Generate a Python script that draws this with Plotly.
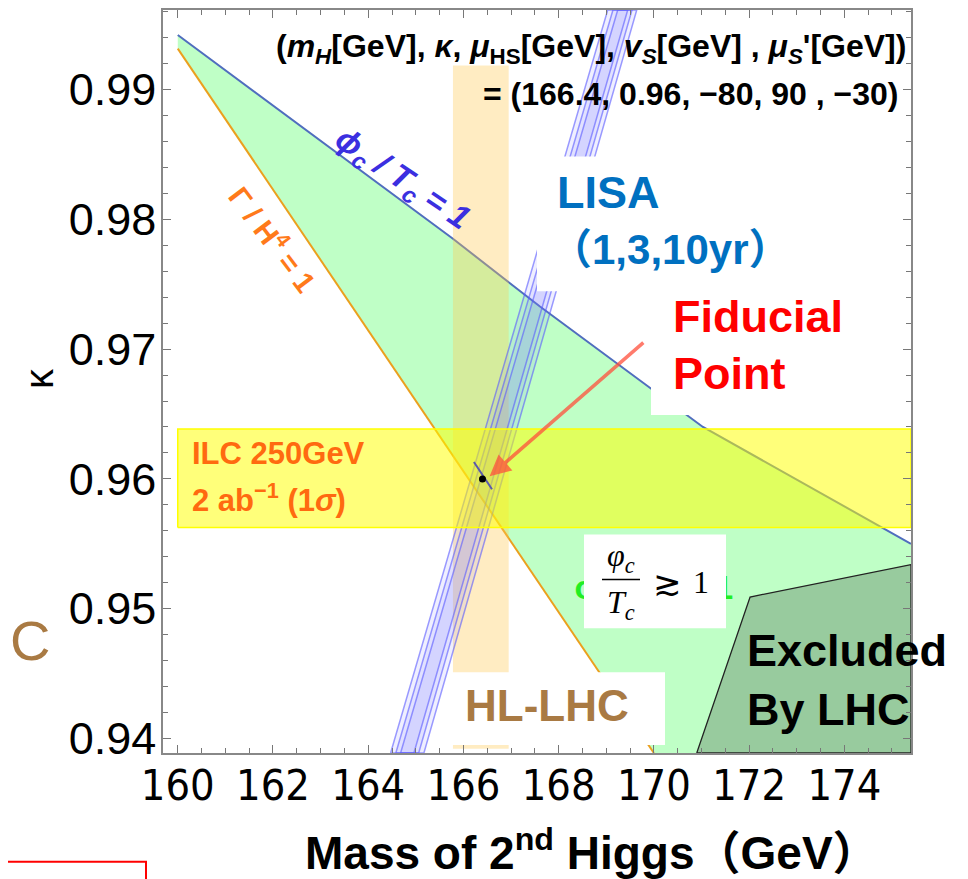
import plotly.graph_objects as go

# axis extent (GeV, kappa)
x_range = [159.69, 175.4]
y_range = [0.93888, 0.99613]
x_ticks = [160, 162, 164, 166, 168, 170, 172, 174]
y_ticks = [0.94, 0.95, 0.96, 0.97, 0.98, 0.99]
y_tick_text = ["0.94", "0.95", "0.96", "0.97", "0.98", "0.99"]

# phi_c/T_c = 1 contour
phi_x = [160.0, 165.78, 167.6, 171.03, 175.4]
phi_y = [0.9942, 0.9785, 0.9733, 0.9640, 0.9550]
# Gamma/H^4 = 1 contour
gamma_x = [160.0, 170.0]
gamma_y = [0.99315, 0.93888]
# lower-right corners closing the allowed (green) region
green_corner_x = [175.4, 170.0]
green_corner_y = [0.93888, 0.93888]

# excluded by LHC
lhc_x = [170.9, 172.02, 175.4, 175.4]
lhc_y = [0.93888, 0.9509, 0.9534, 0.93888]

# HL-LHC band in mass
hl_x = [165.78, 166.95]
hl_y = [0.9392, 0.99185]

# ILC 250 GeV band in kappa
ilc_x = [160.0, 175.4]
ilc_y = [0.95625, 0.96385]

# LISA bands (1, 3, 10 yr): edges at bottom and top of frame
lisa_y = [0.93888, 0.99613]
lisa_left = {"1yr": [164.47, 169.03], "3yr": [164.58, 169.14], "10yr": [164.68, 169.24]}
lisa_right = {"1yr": [165.17, 169.64], "3yr": [165.06, 169.54], "10yr": [164.96, 169.45]}

# fiducial point
fid_x = [166.4]
fid_y = [0.96]
fid_err_x = [166.22, 166.6]
fid_err_y = [0.9613, 0.9592]
arrow_tail = (169.81, 0.9706)
arrow_head = (166.55, 0.9602)

# plot area in page pixels (the page body adds an 8px offset)
OFF = 8
L, R, T, B = 163, 911, 8, 753
W, H = 968 - OFF, 879 - OFF


def px(x):
    return (x - L) / (R - L)


def py(y):
    return (B - y) / (B - T)


fig = go.Figure()

# allowed region
fig.add_trace(go.Scatter(
    x=phi_x + green_corner_x + gamma_x[::-1],
    y=phi_y + green_corner_y + gamma_y[::-1],
    fill='toself', fillcolor='#bfffc6', mode='lines', line=dict(width=0),
    hoverinfo='skip'
))
# excluded region
fig.add_trace(go.Scatter(
    x=lhc_x + lhc_x[:1], y=lhc_y + lhc_y[:1],
    fill='toself', fillcolor='#98cb9e', mode='lines',
    line=dict(color='#222222', width=1.3), hoverinfo='skip'
))
# contours
fig.add_trace(go.Scatter(x=phi_x, y=phi_y, mode='lines',
                         line=dict(color='rgb(80,110,190)', width=2)))
fig.add_trace(go.Scatter(x=gamma_x, y=gamma_y, mode='lines',
                         line=dict(color='rgb(235,160,30)', width=2)))
# HL-LHC band
fig.add_trace(go.Scatter(
    x=[hl_x[0], hl_x[1], hl_x[1], hl_x[0], hl_x[0]],
    y=[hl_y[0], hl_y[0], hl_y[1], hl_y[1], hl_y[0]],
    fill='toself', fillcolor='rgba(255,200,80,0.35)', mode='lines',
    line=dict(width=0), hoverinfo='skip'
))
# LISA bands
for key in ["1yr", "3yr", "10yr"]:
    xl, xr = lisa_left[key], lisa_right[key]
    fig.add_trace(go.Scatter(
        x=[xl[0], xr[0], xr[1], xl[1], xl[0]],
        y=[lisa_y[0], lisa_y[0], lisa_y[1], lisa_y[1], lisa_y[0]],
        fill='toself', fillcolor='rgba(120,120,255,0.12)', mode='lines',
        line=dict(color='rgba(90,90,255,0.6)', width=1.5), hoverinfo='skip'
    ))
# ILC band
fig.add_trace(go.Scatter(
    x=[ilc_x[0], ilc_x[1], ilc_x[1], ilc_x[0], ilc_x[0]],
    y=[ilc_y[0], ilc_y[0], ilc_y[1], ilc_y[1], ilc_y[0]],
    fill='toself', fillcolor='rgba(255,255,0,0.52)', mode='lines',
    line=dict(color='#ffff00', width=1.5), hoverinfo='skip'
))
# fiducial point
fig.add_trace(go.Scatter(x=fid_err_x, y=fid_err_y, mode='lines',
                         line=dict(color='rgb(90,90,170)', width=2)))
fig.add_trace(go.Scatter(x=fid_x, y=fid_y, mode='markers',
                         marker=dict(color='black', size=7)))
# label hidden under the white box
fig.add_trace(go.Scatter(
    x=[170.0], y=[0.95138], mode='text',
    text=['<b>ϕ<sub>c</sub> / T<sub>c</sub> = 1</b>'],
    textfont=dict(family='Liberation Sans', size=34, color='#22ee22')
))

# white label boxes
shapes = []
for x0, x1, y0, y1 in [(537, 790, 155, 290), (651, 880, 290, 414),
                       (584, 726, 534, 628), (450, 665, 672, 745)]:
    shapes.append(dict(type='rect', xref='paper', yref='paper',
                       x0=px(x0), x1=px(x1), y0=py(y1), y1=py(y0),
                       fillcolor='white', line=dict(width=0), layer='above'))
shapes.append(dict(type='line', xref='paper', yref='paper',
                   x0=px(602), x1=px(640), y0=py(579), y1=py(579),
                   line=dict(color='black', width=1.5), layer='above'))
shapes.append(dict(type='rect', xref='paper', yref='paper',
                   x0=px(0), x1=px(146), y0=py(900), y1=py(862),
                   line=dict(color='red', width=2), fillcolor='rgba(0,0,0,0)'))

ann = []


def text(xp, yp, s, size, color='black', family='Liberation Sans', xanchor='center', angle=0):
    ann.append(dict(x=px(xp), y=py(yp), xref='paper', yref='paper', text=s,
                    showarrow=False, xanchor=xanchor, yanchor='middle', textangle=angle,
                    font=dict(family=family, size=size, color=color)))


text(908, 47, '<b>(<i>m<sub>H</sub></i>[GeV], <i>κ</i>, <i>μ</i><sub>HS</sub>[GeV], '
     '<i>v<sub>S</sub></i>[GeV] , <i>μ<sub>S</sub></i>\'[GeV])</b>', 32, xanchor='right')
text(900, 92, '<b>= (166.4, 0.96, −80, 90 , −30)</b>', 32, xanchor='right')
text(402, 178, '<b><i>ϕ<sub>c</sub> / T<sub>c</sub> = 1</i></b>', 33, color='#3b2fe0', angle=34)
text(273, 237, '<b>Γ / H<sup>4</sup> = 1</b>', 29, color='#ff7a1a', angle=53)
text(555, 191, '<b>LISA</b>', 45, color='#0070c0', family='Liberation Sans, Noto Sans CJK JP', xanchor='left')
text(548, 248, '<b>（1,3,10yr）</b>', 42, color='#0070c0', family='Liberation Sans, Noto Sans CJK JP', xanchor='left')
text(671, 315, '<b>Fiducial</b>', 45, color='#ff0000', xanchor='left')
text(671, 372, '<b>Point</b>', 45, color='#ff0000', xanchor='left')
text(190, 453, '<b>ILC 250GeV</b>', 31, color='#ff6a10', xanchor='left')
text(190, 497, '<b>2 ab<sup>−1</sup> (1<i>σ</i>)</b>', 31, color='#ff6a10', xanchor='left')
text(745, 650, '<b>Excluded</b>', 45, xanchor='left')
text(745, 709, '<b>By LHC</b>', 45, xanchor='left')
text(547, 705, '<b>HL-LHC</b>', 44, color='#a97a43')
text(621, 557, '<i>φ<sub>c</sub></i>', 32, family='Liberation Serif')
text(621, 604, '<i>T<sub>c</sub></i>', 32, family='Liberation Serif')
text(667, 583, '≳', 34, family='DejaVu Serif')
text(701, 582, '1', 32, family='Liberation Serif')
text(8, 640, 'C', 56, color='#a97a43', xanchor='left')
text(39, 378, 'κ', 40, angle=-90)
text(592, 850, '<b>Mass of 2<sup>nd</sup> Higgs（GeV）</b>', 46,
     family='Liberation Sans, Noto Sans CJK JP')

ann.append(dict(x=arrow_head[0], y=arrow_head[1], ax=arrow_tail[0], ay=arrow_tail[1],
                xref='x', yref='y', axref='x', ayref='y', text='', showarrow=True,
                arrowhead=2, arrowsize=1.2, arrowwidth=3.5,
                arrowcolor='rgba(255,80,60,0.75)'))

narrow = 'Liberation Sans Narrow, Arial Narrow, DejaVu Sans Condensed, Roboto Condensed, Liberation Sans'
fig.update_layout(
    width=W, height=H,
    margin=dict(l=L - OFF, r=W - (R - OFF), t=T - OFF, b=H - (B - OFF)),
    plot_bgcolor='white', paper_bgcolor='white',
    showlegend=False,
    shapes=shapes, annotations=ann,
    xaxis=dict(range=x_range, tickvals=x_ticks, ticks='inside', ticklen=8,
               tickcolor='#777', showline=True, linecolor='#888', linewidth=1.5,
               mirror='ticks', showgrid=False, zeroline=False, ticklabelstandoff=-6,
               minor=dict(dtick=0.5, ticks='inside', ticklen=5, tickcolor='#777'),
               tickfont=dict(family=narrow, size=43, color='black')),
    yaxis=dict(range=y_range, tickvals=y_ticks, ticktext=y_tick_text, ticks='inside',
               ticklen=8, tickcolor='#777', showline=True, linecolor='#888',
               linewidth=1.5, mirror='ticks', showgrid=False, zeroline=False,
               ticklabelstandoff=-4,
               minor=dict(dtick=0.002, ticks='inside', ticklen=5, tickcolor='#777'),
               tickfont=dict(family='Liberation Sans', size=45, color='black')),
)

fig.write_html("out.html")
